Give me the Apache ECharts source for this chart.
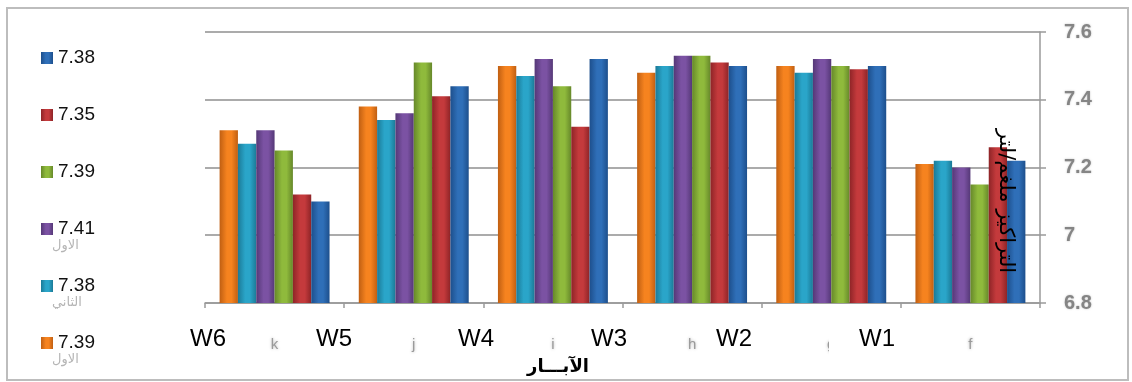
<!DOCTYPE html>
<html>
<head>
<meta charset="utf-8">
<script src="https://cdn.jsdelivr.net/npm/echarts@6/dist/echarts.min.js"></script>
<style>
  html, body { margin: 0; padding: 0; background: #fff; }
  #chart { width: 1132px; height: 382px; }
</style>
</head>
<body>
<div id="chart"></div>
<script>
// Wells on the category axis (drawn right to left)
const categories = ['f', 'g', 'h', 'i', 'j', 'k'];

// Concentration per well, one array per series (order: f, g, h, i, j, k)
const seriesBlue   = [7.22, 7.50, 7.50, 7.52, 7.44, 7.10];
const seriesRed    = [7.26, 7.49, 7.51, 7.32, 7.41, 7.12];
const seriesGreen  = [7.15, 7.50, 7.53, 7.44, 7.51, 7.25];
const seriesPurple = [7.20, 7.52, 7.53, 7.52, 7.36, 7.31];
const seriesCyan   = [7.22, 7.48, 7.50, 7.47, 7.34, 7.27];
const seriesOrange = [7.21, 7.50, 7.48, 7.50, 7.38, 7.31];

// Legend texts (series means) and the faint notes under some of them
const legendValues = ['7.38', '7.35', '7.39', '7.41', '7.38', '7.39'];
const legendNotes  = ['', '', '', 'الاول', 'الثاني', 'الاول'];

// Well labels written over the category axis
const wellLabels = ['W6', 'W5', 'W4', 'W3', 'W2', 'W1'];

// Y axis range
const yMin = 6.8, yMax = 7.6, yStep = 0.2;

const palette = [
  ['#2f6fb8', '#1d4f8c'],
  ['#c43a3c', '#8e2427'],
  ['#8fba3c', '#66882a'],
  ['#7b52a3', '#553877'],
  ['#2aa5c9', '#1b7a97'],
  ['#f6831f', '#c05f12']
];
const seriesData = [seriesBlue, seriesRed, seriesGreen, seriesPurple, seriesCyan, seriesOrange];

function barFill(i) {
  const [base, edge] = palette[i];
  return new echarts.graphic.LinearGradient(0, 0, 1, 0, [
    { offset: 0, color: edge },
    { offset: 0.4, color: base },
    { offset: 0.65, color: base },
    { offset: 1, color: edge }
  ]);
}

const seriesNames = legendValues.map((v, i) => legendNotes[i] ? v + ' ' + legendNotes[i] : v);

// The category axis runs right to left, so the series are added last-first
// to keep the first series on the right side of each group.
const series = seriesData.map((d, i) => ({
  name: seriesNames[i],
  type: 'bar',
  data: d,
  barGap: '0%',
  barCategoryGap: '21%',
  itemStyle: { color: barFill(i) },
  emphasis: { disabled: true }
})).reverse();

const chart = echarts.init(document.getElementById('chart'));

const legendTop0 = 43, legendStep = 57;

const wellX = [208, 334, 476, 609, 734, 868];

chart.setOption({
  animation: false,
  backgroundColor: '#ffffff',
  grid: { left: 205, right: 92, top: 32, bottom: 79 },
  legend: {
    orient: 'vertical',
    left: 36,
    top: legendTop0,
    itemWidth: 12,
    itemHeight: 12,
    itemGap: legendStep - 20,
    icon: 'rect',
    data: seriesNames,
    formatter: name => legendValues[seriesNames.indexOf(name)],
    textStyle: { fontFamily: 'Liberation Sans', fontSize: 19, color: '#111', lineHeight: 20 }
  },
  xAxis: {
    type: 'category',
    data: categories,
    inverse: true,
    axisLine: { lineStyle: { color: '#9a9a9a', width: 1.5 } },
    axisTick: { show: true, length: 5, lineStyle: { color: '#9a9a9a', width: 1.5 } },
    axisLabel: {
      margin: 34,
      fontFamily: 'Liberation Sans',
      fontSize: 15,
      color: '#9a9a9a',
      textShadowColor: 'rgba(160,160,160,0.8)',
      textShadowBlur: 3
    }
  },
  yAxis: {
    type: 'value',
    position: 'right',
    min: yMin,
    max: yMax,
    interval: yStep,
    axisLine: { show: true, lineStyle: { color: '#9a9a9a', width: 1.5 } },
    axisTick: { show: true, length: 6, lineStyle: { color: '#9a9a9a', width: 1.5 } },
    splitLine: { lineStyle: { color: '#8f8f8f', width: 1.6 } },
    axisLabel: {
      margin: 24,
      fontFamily: 'Liberation Sans',
      fontSize: 20,
      fontWeight: 'bold',
      color: '#858585',
      textShadowColor: 'rgba(130,130,130,0.5)',
      textShadowBlur: 2,
      formatter: v => String(Math.round(v * 10) / 10)
    }
  },
  series: series,
  graphic: [
    {
      type: 'rect',
      z: -1,
      shape: { x: 7, y: 8, width: 1121, height: 372 },
      style: { fill: 'none', stroke: '#bdbdbd', lineWidth: 2 }
    },
    ...legendNotes.map((n, i) => n ? {
      type: 'text',
      left: 52,
      top: legendTop0 + legendStep * i + 25,
      style: {
        text: n,
        font: '13px "DejaVu Sans"',
        fill: '#b5b5b5',
        shadowColor: 'rgba(170,170,170,0.8)',
        shadowBlur: 3
      }
    } : null).filter(Boolean),
    ...wellLabels.map((w, i) => ({
      type: 'text',
      z: 100,
      x: wellX[i],
      y: 339,
      style: {
        text: w,
        font: '24px "Liberation Sans"',
        fill: '#000',
        align: 'center',
        verticalAlign: 'middle',
        backgroundColor: '#fff',
        padding: w === 'W1' ? [4, 12, 4, 30] : [2, 2]
      }
    })),
    {
      type: 'text',
      z: 100,
      x: 558,
      y: 367,
      style: {
        text: 'الآبـــار',
        font: 'bold 18px "DejaVu Sans"',
        fill: '#000',
        align: 'center',
        verticalAlign: 'middle'
      }
    },
    {
      type: 'text',
      z: 100,
      x: 1005,
      y: 201,
      rotation: -Math.PI / 2,
      style: {
        text: 'التراكيز ملغم/لتر',
        font: '21px "DejaVu Sans"',
        fill: '#000',
        align: 'center',
        verticalAlign: 'middle'
      }
    }
  ]
});
</script>
</body>
</html>
